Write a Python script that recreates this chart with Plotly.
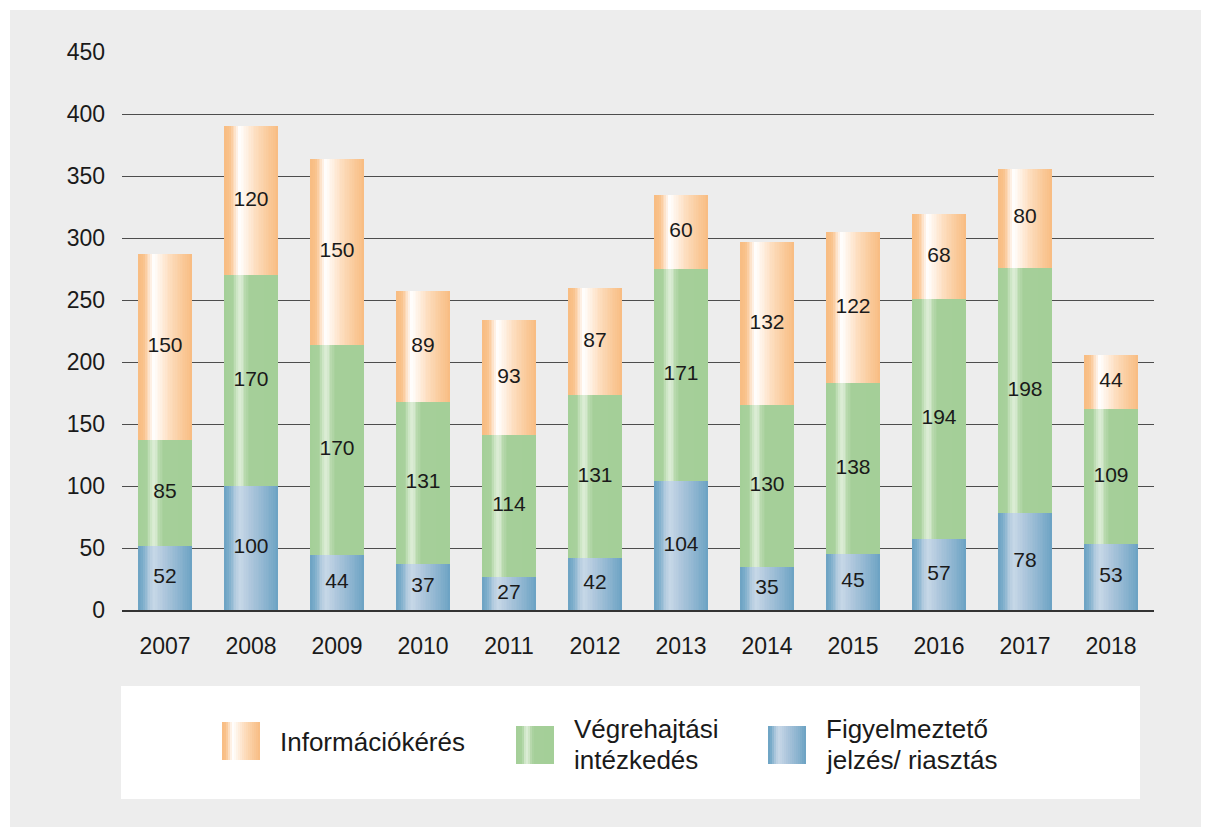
import plotly.graph_objects as go

# ---- data ----
years = ["2007", "2008", "2009", "2010", "2011", "2012",
         "2013", "2014", "2015", "2016", "2017", "2018"]
figyelmezteto = [52, 100, 44, 37, 27, 42, 104, 35, 45, 57, 78, 53]
vegrehajtasi = [85, 170, 170, 131, 114, 131, 171, 130, 138, 194, 198, 109]
informacio = [150, 120, 150, 89, 93, 87, 60, 132, 122, 68, 80, 44]
y_ticks = [0, 50, 100, 150, 200, 250, 300, 350, 400, 450]

series_names = ["Figyelmeztető jelzés/ riasztás", "Végrehajtási intézkedés", "Információkérés"]

# ---- gradient definitions (horizontal, left->right) ----
grad_blue = [(0.0, "#6BA2C3"), (0.08, "#78ABC9"), (0.22, "#B8CEE1"), (0.30, "#C6D7E7"),
             (0.50, "#ADC6DC"), (0.80, "#88B2CE"), (1.0, "#6BA2C3")]
grad_green = [(0.0, "#A4CF98"), (0.16, "#A8D19C"), (0.25, "#D6EACF"), (0.31, "#DCEDD6"),
              (0.39, "#B8D9AD"), (0.47, "#A5CF99"), (1.0, "#A4CF98")]
grad_orange = [(0.0, "#F8BC82"), (0.10, "#F9C189"), (0.20, "#FDE2C9"), (0.27, "#FFFFFF"),
               (0.33, "#FFFAF5"), (0.58, "#FDDEC0"), (0.82, "#FACA9A"), (1.0, "#F8BC82")]


def hex2rgb(h):
    h = h.lstrip("#")
    return tuple(int(h[i:i + 2], 16) for i in (0, 2, 4))


def sample(stops, p):
    for (p0, c0), (p1, c1) in zip(stops[:-1], stops[1:]):
        if p0 <= p <= p1:
            t = 0 if p1 == p0 else (p - p0) / (p1 - p0)
            a, b = hex2rgb(c0), hex2rgb(c1)
            r = [round(a[k] + (b[k] - a[k]) * t) for k in range(3)]
            return "rgb(%d,%d,%d)" % tuple(r)
    return stops[-1][1]


fig = go.Figure()

BAR_W = 0.625
N = 32
step = BAR_W / N

bases_blue = [0] * len(years)
bases_green = figyelmezteto
bases_orange = [a + b for a, b in zip(figyelmezteto, vegrehajtasi)]

layers = [
    (figyelmezteto, bases_blue, grad_blue, series_names[0]),
    (vegrehajtasi, bases_green, grad_green, series_names[1]),
    (informacio, bases_orange, grad_orange, series_names[2]),
]

for vals, bases, grad, name in layers:
    for i in range(N):
        off = -BAR_W / 2 + i * step
        w = step * 1.6 if i < N - 1 else step
        w = min(w, BAR_W / 2 - off)
        col = sample(grad, (i + 0.5) / N)
        fig.add_trace(go.Bar(
            x=years, y=vals, base=bases,
            width=[w] * len(years), offset=[off] * len(years),
            marker=dict(color=col, line=dict(width=0)),
            showlegend=False, hoverinfo="skip", name=name,
        ))

# value labels
for vals, bases, grad, name in layers:
    fig.add_trace(go.Scatter(
        x=years, y=[b + v / 2 for v, b in zip(vals, bases)],
        mode="text", text=[str(v) for v in vals],
        textfont=dict(family="Liberation Sans, Arial, sans-serif", size=21, color="#1a1a1a"),
        showlegend=False, hoverinfo="skip",
    ))

# ---- layout geometry (page pixel coords, page has an 8px body offset) ----
OFF = 8
L, R, T, B = 122 - OFF, 1154 - OFF, 52 - OFF, 610 - OFF
W_FIG, H_FIG = 1209 - OFF, 827 - OFF


def px(x):
    return (x - OFF - L) / (R - L)


def py(y):
    return (B - (y - OFF)) / (B - T)


shapes = [
    dict(type="rect", xref="paper", yref="paper", x0=px(10), x1=px(1215), y0=py(10), y1=py(835),
         fillcolor="#EDEDED", line=dict(width=0), layer="below"),
    dict(type="rect", xref="paper", yref="paper", x0=px(121), x1=px(1140), y0=py(686), y1=py(799),
         fillcolor="#FFFFFF", line=dict(width=0), layer="below"),
]

annotations = []
legend_items = [
    (grad_orange, 222, 722, ["Információkérés"], [742], 278),
    (grad_green, 516, 726, ["Végrehajtási", "intézkedés"], [729, 760], 572),
    (grad_blue, 768, 726, ["Figyelmeztető", "jelzés/ riasztás"], [729, 760], 824),
]
SW = 38
NS = 19
for grad, sx, sy, lines, ys, tx in legend_items:
    for k in range(NS):
        x0 = sx + k * SW / NS
        x1 = sx + (k + 1.5) * SW / NS if k < NS - 1 else sx + SW
        shapes.append(dict(type="rect", xref="paper", yref="paper",
                           x0=px(x0), x1=px(x1), y0=py(sy), y1=py(sy + SW),
                           fillcolor=sample(grad, (k + 0.5) / NS), line=dict(width=0), layer="above"))
    for txt, yy in zip(lines, ys):
        annotations.append(dict(xref="paper", yref="paper", x=px(tx), y=py(yy),
                                xanchor="left", yanchor="middle", showarrow=False, text=txt,
                                font=dict(family="Liberation Sans, Arial, sans-serif", size=26, color="#1a1a1a")))

fig.update_layout(
    width=W_FIG, height=H_FIG,
    margin=dict(l=L, r=W_FIG - R, t=T, b=H_FIG - B, pad=0),
    paper_bgcolor="#FFFFFF", plot_bgcolor="#EDEDED",
    barmode="overlay", bargap=0,
    showlegend=False,
    font=dict(family="Liberation Sans, Arial, sans-serif", size=23, color="#1a1a1a"),
    xaxis=dict(type="category", categoryorder="array", categoryarray=years,
               range=[-0.5, len(years) - 0.5], showgrid=False, zeroline=False,
               showline=True, linecolor="#333333", linewidth=2,
               ticks="", ticklabelstandoff=14,
               tickfont=dict(size=23, color="#1a1a1a")),
    yaxis=dict(range=[0, 450], tickvals=y_ticks, showgrid=True, gridcolor="#4d4d4d",
               gridwidth=1.4, zeroline=False, showline=False, ticks="",
               ticklabelstandoff=16, tickfont=dict(size=23, color="#1a1a1a")),
    shapes=shapes, annotations=annotations,
)

fig.write_html("out.html")
